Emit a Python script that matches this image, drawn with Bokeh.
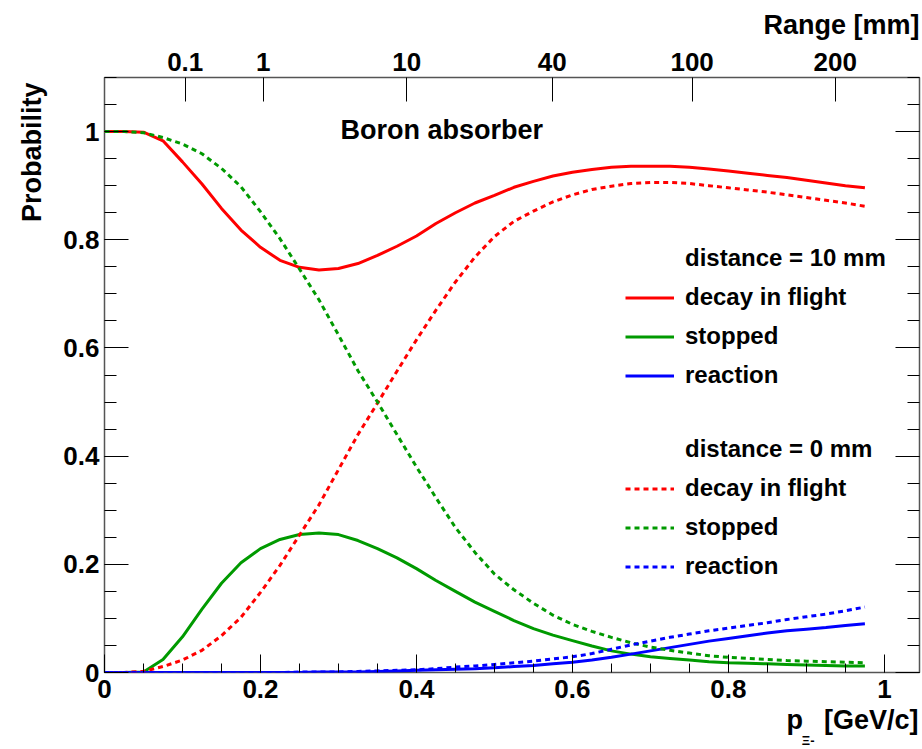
import math
from bokeh.plotting import figure
from bokeh.models import (Range1d, LinearAxis, SingleIntervalTicker, FixedTicker,
                          CustomJSTickFormatter, Label, Legend, LegendItem, Title)
from bokeh.embed import file_html
from bokeh.resources import INLINE

# ---------------- data ----------------
p_gev = [0.0, 0.025, 0.05, 0.075, 0.1, 0.125, 0.15, 0.175, 0.2, 0.225,
         0.25, 0.275, 0.3, 0.325, 0.35, 0.375, 0.4, 0.425, 0.45, 0.475,
         0.5, 0.525, 0.55, 0.575, 0.6, 0.625, 0.65, 0.675, 0.7, 0.725,
         0.75, 0.775, 0.8, 0.825, 0.85, 0.875, 0.9, 0.925, 0.95, 0.975]

# distance = 10 mm (solid)
decay_10 = [1.0, 1.0, 0.999, 0.983, 0.944, 0.903, 0.858, 0.818, 0.786, 0.762,
            0.749, 0.744, 0.747, 0.756, 0.771, 0.788, 0.807, 0.83, 0.85, 0.868,
            0.882, 0.897, 0.908, 0.918, 0.925, 0.93, 0.934, 0.936, 0.936, 0.936,
            0.934, 0.931, 0.927, 0.923, 0.919, 0.915, 0.91, 0.905, 0.9, 0.896]
stopped_10 = [0.0, 0.0, 0.001, 0.024, 0.066, 0.117, 0.165, 0.203, 0.229, 0.246,
              0.255, 0.258, 0.255, 0.244, 0.229, 0.212, 0.192, 0.17, 0.15, 0.13,
              0.113, 0.096, 0.081, 0.069, 0.059, 0.049, 0.04, 0.034, 0.029, 0.026,
              0.023, 0.02, 0.018, 0.017, 0.016, 0.015, 0.014, 0.013, 0.012, 0.012]
reaction_10 = [0.0, 0.0, 0.0, 0.0, 0.0, 0.0, 0.0, 0.0, 0.0, 0.0,
               0.0, 0.001, 0.001, 0.001, 0.002, 0.003, 0.004, 0.005, 0.006, 0.007,
               0.009, 0.011, 0.013, 0.016, 0.019, 0.023, 0.028, 0.034, 0.04, 0.046,
               0.052, 0.058, 0.063, 0.068, 0.073, 0.077, 0.08, 0.083, 0.087, 0.09]

# distance = 0 mm (dashed)
decay_0 = [0.0, 0.0, 0.002, 0.011, 0.023, 0.041, 0.068, 0.102, 0.148, 0.198,
           0.254, 0.31, 0.375, 0.44, 0.498, 0.557, 0.615, 0.67, 0.722, 0.768,
           0.806, 0.834, 0.853, 0.87, 0.883, 0.893, 0.899, 0.904, 0.906, 0.906,
           0.904, 0.9, 0.896, 0.892, 0.888, 0.883, 0.878, 0.873, 0.868, 0.862]
stopped_0 = [1.0, 1.0, 0.998, 0.989, 0.977, 0.959, 0.932, 0.898, 0.852, 0.802,
             0.746, 0.689, 0.624, 0.558, 0.5, 0.44, 0.38, 0.323, 0.268, 0.222,
             0.182, 0.153, 0.128, 0.106, 0.089, 0.076, 0.065, 0.055, 0.047, 0.041,
             0.036, 0.031, 0.028, 0.026, 0.024, 0.022, 0.021, 0.02, 0.019, 0.018]
reaction_0 = [0.0, 0.0, 0.0, 0.0, 0.0, 0.0, 0.0, 0.0, 0.0, 0.0,
              0.001, 0.001, 0.001, 0.002, 0.003, 0.004, 0.005, 0.007, 0.01, 0.012,
              0.015, 0.018, 0.021, 0.025, 0.029, 0.035, 0.043, 0.051, 0.058, 0.065,
              0.071, 0.077, 0.082, 0.087, 0.092, 0.098, 0.103, 0.108, 0.114, 0.121]

# top axis: range in mm at given momentum
range_labels = ["0.1", "1", "10", "40", "100", "200"]
range_tick_p = [0.1035, 0.2035, 0.3874, 0.574, 0.7535, 0.937]

series_labels = ["decay in flight", "stopped", "reaction"]
group_titles = ["distance = 10 mm", "distance = 0 mm"]

# ---------------- style ----------------
FONT = "Liberation Sans"
RED, GREEN, BLUE = "#ff0000", "#009a00", "#0000ff"
X_MAX, Y_MAX = 1.045, 1.1
FW, FH = 815, 595          # frame size in px
BL, BT = 104, 77           # borders left / top
BR = 3
BB = 749 - BT - FH

def dx(px):  # canvas px -> data x
    return (px - BL) / FW * X_MAX

def dy(py):  # canvas px -> data y
    return (BT + FH - py) / FH * Y_MAX

p = figure(width=BL + FW + BR, height=BT + FH + BB,
           x_range=Range1d(0, X_MAX), y_range=Range1d(0, Y_MAX),
           output_backend="svg", toolbar_location=None, title_location=None,
           min_border_left=BL, min_border_right=BR,
           min_border_top=BT, min_border_bottom=BB)
p.grid.visible = False
p.background_fill_color = "white"
p.border_fill_color = "white"
p.outline_line_color = "#555555"
p.outline_line_width = 1.5

fmt_num = CustomJSTickFormatter(code="""
    var s = tick.toFixed(1);
    if (s.slice(-2) == '.0') { s = s.slice(0, -2); }
    return s;
""")
fmt_blank = CustomJSTickFormatter(code="return '';")

def style_axis(ax, tin, tmin, size="26px"):
    ax.axis_line_color = None
    ax.major_tick_in = tin
    ax.major_tick_out = 0
    ax.minor_tick_in = tmin
    ax.minor_tick_out = 0
    ax.major_tick_line_color = "black"
    ax.minor_tick_line_color = "black"
    ax.major_tick_line_width = 1
    ax.minor_tick_line_width = 1
    ax.major_label_text_font = FONT
    ax.major_label_text_font_style = "bold"
    ax.major_label_text_font_size = size
    ax.major_label_text_color = "black"

xb = p.xaxis[0]
xb.ticker = SingleIntervalTicker(interval=0.2, num_minor_ticks=4)
xb.formatter = fmt_num
style_axis(xb, 18, 9)
xb.major_label_standoff = 7

yl = p.yaxis[0]
yl.ticker = SingleIntervalTicker(interval=0.2, num_minor_ticks=4)
yl.formatter = fmt_num
style_axis(yl, 24, 12)
yl.major_label_standoff = 5

yr = LinearAxis(ticker=SingleIntervalTicker(interval=0.2, num_minor_ticks=4),
                formatter=fmt_blank)
style_axis(yr, 24, 12, size="0px")
yr.major_label_standoff = 0
p.add_layout(yr, "right")

xt = LinearAxis(ticker=FixedTicker(ticks=range_tick_p, minor_ticks=[]),
                formatter=CustomJSTickFormatter(args=dict(labels=range_labels),
                                                code="return labels[index];"))
style_axis(xt, 24, 0)
xt.major_label_standoff = 7
p.add_layout(xt, "above")

# ---------------- curves ----------------
W = 3
DASH = "5 4"
r_d10 = p.line(p_gev, decay_10, line_color=RED, line_width=W)
r_s10 = p.line(p_gev, stopped_10, line_color=GREEN, line_width=W)
r_r10 = p.line(p_gev, reaction_10, line_color=BLUE, line_width=W)
r_d0 = p.line(p_gev, decay_0, line_color=RED, line_width=W, line_dash=DASH)
r_s0 = p.line(p_gev, stopped_0, line_color=GREEN, line_width=W, line_dash=DASH)
r_r0 = p.line(p_gev, reaction_0, line_color=BLUE, line_width=W, line_dash=DASH)
hdr = p.line([], [], line_alpha=0)

# ---------------- legends ----------------
def make_legend(title, rends, loc):
    items = [LegendItem(label=title, renderers=[hdr])]
    items += [LegendItem(label=lab, renderers=[r]) for lab, r in zip(series_labels, rends)]
    lg = Legend(items=items, location=loc,
                label_text_font=FONT, label_text_font_style="bold",
                label_text_font_size="24px", label_text_color="black",
                glyph_width=49, glyph_height=27, label_height=27,
                label_standoff=11, spacing=11, padding=0, margin=0,
                border_line_color=None, background_fill_alpha=0)
    p.add_layout(lg)

make_legend(group_titles[0], [r_d10, r_s10, r_r10], (521, 283))
make_legend(group_titles[1], [r_d0, r_s0, r_r0], (521, 92))

# ---------------- texts ----------------
p.add_layout(Label(x=dx(340), y=dy(129.5), text="Boron absorber", text_font=FONT,
                   text_font_style="bold", text_font_size="27px",
                   text_baseline="alphabetic", text_color="black"))

def title(text, side, size, standoff, offset=0, align="right", valign="bottom"):
    t = Title(text=text, align=align, offset=offset, standoff=standoff,
              vertical_align=valign,
              text_font=FONT, text_font_style="bold", text_font_size=size,
              text_color="black")
    p.add_layout(t, side)

title("Range [mm]", "above", "27px", 16, offset=0, valign="top")
title("Probability", "left", "27px", 28, offset=5)
title("p\u2002 [GeV/c]", "below", "27px", 4, offset=1)
title("\u039e-", "below", "13px", -12, offset=105)

open("out.html", "w").write(file_html(p, INLINE))
